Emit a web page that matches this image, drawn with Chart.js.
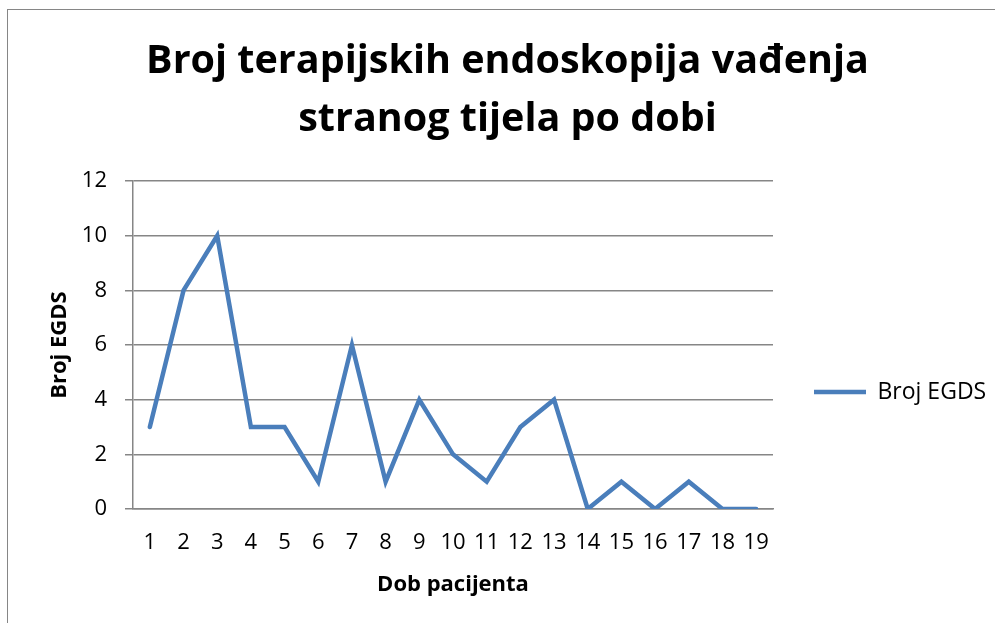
<!DOCTYPE html>
<html>
<head>
<meta charset="utf-8">
<script src="https://cdn.jsdelivr.net/npm/chart.js@4"></script>
<style>
  html, body { margin: 0; padding: 0; background: #fff; }
  #wrap { position: relative; width: 995px; height: 623px; overflow: hidden; }
  #frame { position: absolute; left: 7px; top: 9px; width: 1100px; height: 800px; border: 1.5px solid #868686; }
  canvas { position: absolute; left: 0; top: 0; }
</style>
</head>
<body>
<div id="wrap">
  <div id="frame"></div>
  <canvas id="egdsChart" width="995" height="623"></canvas>
</div>
<script>
// patient age (years) on x, number of EGDS procedures on y
const ages = ['1', '2', '3', '4', '5', '6', '7', '8', '9', '10', '11', '12', '13', '14', '15', '16', '17', '18', '19'];
const egdsCounts = [3, 8, 10, 3, 3, 1, 6, 1, 4, 2, 1, 3, 4, 0, 1, 0, 1, 0, 0];
const seriesLabel = 'Broj EGDS';
const titleLines = ['Broj terapijskih endoskopija vađenja', 'stranog tijela po dobi'];

const FONT = '"Open Sans", Calibri, sans-serif';
const GRID = '#868686';

// push the legend down to where Excel puts it
const legendShift = {
  id: 'legendShift',
  afterLayout(chart) {
    chart.legend.top += 47;
    chart.legend.bottom += 47;
  }
};

const ctx = document.getElementById('egdsChart').getContext('2d');
new Chart(ctx, {
  type: 'line',
  data: {
    labels: ages,
    datasets: [{
      label: seriesLabel,
      data: egdsCounts,
      borderColor: '#4A7EBB',
      backgroundColor: '#4A7EBB',
      borderWidth: 4.5,
      borderCapStyle: 'round',
      pointRadius: 0,
      tension: 0,
      fill: false
    }]
  },
  options: {
    responsive: false,
    animation: false,
    layout: { padding: { left: 20, right: 0, top: 0, bottom: 0 } },
    plugins: {
      title: {
        display: true,
        text: titleLines,
        color: '#000',
        font: { family: FONT, size: 39.5, weight: 'bold', lineHeight: 1.47 },
        padding: { top: 33, bottom: 32 }
      },
      legend: {
        position: 'right',
        fullSize: false,
        maxWidth: 222,
        labels: {
          usePointStyle: true,
          pointStyle: 'line',
          pointStyleWidth: 52,
          padding: 41,
          color: '#000',
          font: { family: FONT, size: 23 }
        }
      },
      tooltip: { enabled: false }
    },
    scales: {
      x: {
        offset: true,
        grid: { display: false, drawTicks: false },
        border: { display: true, color: GRID, width: 1.5 },
        ticks: { color: '#000', font: { family: FONT, size: 22 }, padding: 21, maxRotation: 0, autoSkip: false },
        title: {
          display: true, text: 'Dob pacijenta', color: '#000',
          font: { family: FONT, size: 22, weight: 'bold' },
          padding: { top: 0, bottom: 25 }
        },
        afterFit(scale) { scale.height = 114; }
      },
      y: {
        min: 0,
        max: 12,
        ticks: { stepSize: 2, color: '#000', font: { family: FONT, size: 22 }, padding: 18 },
        grid: { color: GRID, lineWidth: 1.5, tickLength: 8, drawTicks: true },
        border: { color: GRID, width: 1.5 },
        title: {
          display: true, text: 'Broj EGDS', color: '#000',
          font: { family: FONT, size: 22, weight: 'bold' },
          padding: { top: 27 }
        },
        afterFit(scale) { scale.width = 113; }
      }
    }
  },
  plugins: [legendShift]
});
</script>
</body>
</html>
